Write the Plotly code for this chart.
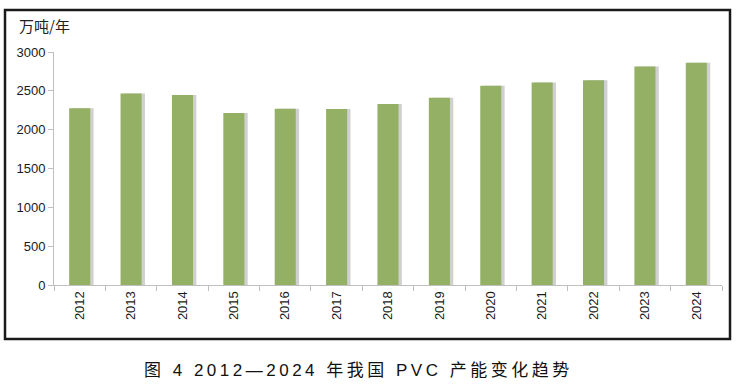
import plotly.graph_objects as go

years = ["2012", "2013", "2014", "2015", "2016", "2017", "2018", "2019",
         "2020", "2021", "2022", "2023", "2024"]
capacity = [2275, 2466, 2445, 2214, 2268, 2265, 2330, 2410, 2565, 2607, 2637, 2812, 2863]
y_ticks = [0, 500, 1000, 1500, 2000, 2500, 3000]
unit_label = "万吨/年"
caption = "图 4 2012—2024 年我国 PVC 产能变化趋势"

W, H = 738, 388
L, R, T, B = 54, 16, 52, 103
pw, ph = W - L - R, H - T - B

def px_to_paper_x(px):
    return (px - L) / pw

def px_to_paper_y(py):
    return (H - B - py) / ph

bw = 0.41
fig = go.Figure()
# soft shadow
fig.add_trace(go.Bar(x=years, y=capacity, width=bw, offset=-bw / 2 + 0.065,
                     marker=dict(color="rgba(120,120,120,0.35)", line=dict(width=0)),
                     hoverinfo="skip", showlegend=False))
fig.add_trace(go.Bar(x=years, y=capacity, width=bw, offset=-bw / 2,
                     marker=dict(color="#93B064", line=dict(width=0)),
                     showlegend=False))

fig.update_layout(
    width=W, height=H, autosize=False,
    margin=dict(l=L, r=R, t=T, b=B, pad=0),
    paper_bgcolor="white", plot_bgcolor="white",
    barmode="overlay",
    font=dict(family="Liberation Sans, Noto Sans CJK SC", color="#222222", size=13),
    xaxis=dict(type="category", showgrid=False, showline=True, linecolor="#BFBFBF",
               linewidth=1, ticks="outside", tickson="boundaries", ticklen=5,
               tickcolor="#BFBFBF", tickangle=-90,
               tickfont=dict(size=13, family="Liberation Sans", color="#1a1a1a"),
               range=[-0.5, len(years) - 0.5], fixedrange=True),
    yaxis=dict(range=[0, 3000], tickvals=y_ticks, showgrid=False, zeroline=False,
               showline=True, linecolor="#BFBFBF", linewidth=1, ticks="outside",
               ticklen=5, tickcolor="#BFBFBF",
               tickfont=dict(size=13, family="Liberation Sans", color="#1a1a1a"),
               fixedrange=True),
    shapes=[dict(type="rect", xref="paper", yref="paper",
                 x0=px_to_paper_x(5), x1=px_to_paper_x(730),
                 y0=px_to_paper_y(339), y1=px_to_paper_y(10),
                 line=dict(color="#1a1a1a", width=2.5), fillcolor="rgba(0,0,0,0)",
                 layer="above")],
    annotations=[
        dict(text=unit_label, xref="paper", yref="paper",
             x=px_to_paper_x(17), y=px_to_paper_y(25), xanchor="left", yanchor="middle",
             showarrow=False, font=dict(size=15, family="Noto Sans CJK SC", color="#222222")),
        dict(text='<span style="letter-spacing:3.5px">' + caption + '</span>',
             xref="paper", yref="paper",
             x=px_to_paper_x(358), y=px_to_paper_y(370), xanchor="center", yanchor="middle",
             showarrow=False,
             font=dict(size=17, family="Liberation Sans, Noto Sans CJK SC", color="#111111")),
    ],
)

fig.write_html("out.html", config={"displayModeBar": False},
               post_script="document.body.style.margin='0';document.body.style.padding='0';")
